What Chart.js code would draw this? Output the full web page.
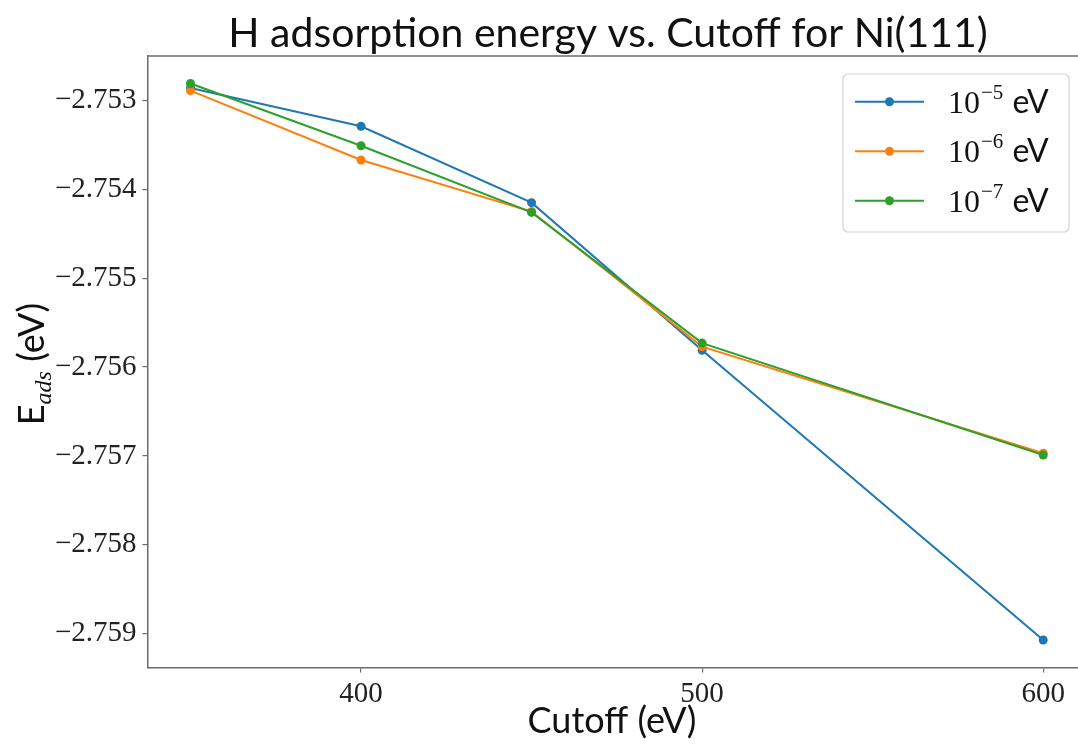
<!DOCTYPE html>
<html>
<head>
<meta charset="utf-8">
<script src="https://cdn.jsdelivr.net/npm/chart.js@4/dist/chart.umd.min.js"></script>
<style>
  html, body { margin: 0; padding: 0; background: #fff; overflow: hidden; }
  #wrap { width: 1078px; height: 744px; position: relative; }
</style>
</head>
<body>
<div id="wrap"><canvas id="cutoffChart"></canvas></div>
<script>
/* =========================
   DATA
========================= */
const cutoffs = [350, 400, 450, 500, 600];
const eTol5 = [-2.75286, -2.75329, -2.75415, -2.75581, -2.75907];
const eTol6 = [-2.75289, -2.75367, -2.75425, -2.75577, -2.75697];
const eTol7 = [-2.75281, -2.75351, -2.75426, -2.75573, -2.75699];

const xTicks = [400, 500, 600];
const yTicks = [-2.753, -2.754, -2.755, -2.756, -2.757, -2.758, -2.759];

const seriesNames = [["10", "\u22125", " eV"], ["10", "\u22126", " eV"], ["10", "\u22127", " eV"]];
const titleText = "H adsorption energy vs. Cutoff for Ni(111)";
const xTitle = "Cutoff (eV)";

const colors = ["#1f77b4", "#ff7f0e", "#2ca02c"];
const SPINE = "#6b6b6b";
const SERIF = "'Liberation Serif', 'DejaVu Serif', serif";
const SANS = "Lato, 'Open Sans', sans-serif";

/* =========================
   HELPERS
========================= */
function makeSeries(values, color, order) {
  return {
    data: cutoffs.map((c, i) => ({ x: c, y: values[i] })),
    borderColor: color,
    backgroundColor: color,
    borderWidth: 2,
    pointRadius: 4.5,
    pointHoverRadius: 4.5,
    pointBorderWidth: 0,
    tension: 0,
    clip: false,
    order
  };
}

const fmtMinus = v => (v < 0 ? "\u2212" : "") + Math.abs(v).toFixed(3);

// keep the plot box fixed, no extra room for edge labels
function noEdgePad(s) {
  s.paddingLeft = 0;
  s.paddingRight = 0;
  s.paddingTop = 0;
  s.paddingBottom = 0;
}

/* =========================
   CUSTOM DRAWING
========================= */
const decor = {
  id: "decor",
  afterDraw(chart) {
    const { ctx, chartArea: a } = chart;
    ctx.save();

    // top spine
    ctx.strokeStyle = SPINE;
    ctx.lineWidth = 1.5;
    ctx.beginPath();
    ctx.moveTo(a.left, a.top);
    ctx.lineTo(a.right, a.top);
    ctx.stroke();

    // title
    ctx.fillStyle = "#111";
    ctx.font = "41px " + SANS;
    ctx.textAlign = "center";
    ctx.textBaseline = "alphabetic";
    ctx.fillText(titleText, 608, 47);

    // x axis title
    ctx.font = "36px " + SANS;
    ctx.fillText(xTitle, 612, 733);

    // y axis title: E with italic subscript "ads"
    ctx.translate(44, 364);
    ctx.rotate(-Math.PI / 2);
    ctx.textAlign = "left";
    const partE = "E";
    const partSub = "ads";
    const partRest = " (eV)";
    ctx.font = "36px " + SANS;
    const wE = ctx.measureText(partE).width;
    const wRest = ctx.measureText(partRest).width;
    ctx.font = "italic 24px " + SERIF;
    const wSub = ctx.measureText(partSub).width;
    let x0 = -(wE + wSub + wRest) / 2;
    ctx.font = "36px " + SANS;
    ctx.fillText(partE, x0, 0);
    ctx.font = "italic 24px " + SERIF;
    ctx.fillText(partSub, x0 + wE, 7);
    ctx.font = "36px " + SANS;
    ctx.fillText(partRest, x0 + wE + wSub, 0);
    ctx.restore();

    // legend
    ctx.save();
    const bx = 843, by = 74, bw = 226, bh = 158, r = 5;
    ctx.fillStyle = "rgba(255,255,255,0.85)";
    ctx.strokeStyle = "#d4d4d4";
    ctx.lineWidth = 1.2;
    ctx.beginPath();
    ctx.roundRect(bx, by, bw, bh, r);
    ctx.fill();
    ctx.stroke();

    seriesNames.forEach((name, i) => {
      const y = 101.7 + i * 49.5;
      ctx.strokeStyle = colors[i];
      ctx.fillStyle = colors[i];
      ctx.lineWidth = 2;
      ctx.beginPath();
      ctx.moveTo(855, y);
      ctx.lineTo(924, y);
      ctx.stroke();
      ctx.beginPath();
      ctx.arc(889.5, y, 4.5, 0, Math.PI * 2);
      ctx.fill();

      ctx.fillStyle = "#111";
      ctx.textBaseline = "alphabetic";
      ctx.textAlign = "left";
      let tx = 948;
      const base = y + 11;
      ctx.font = "32px " + SERIF;
      ctx.fillText(name[0], tx, base);
      tx += ctx.measureText(name[0]).width + 1;
      ctx.font = "21px " + SERIF;
      ctx.fillText(name[1], tx, base - 14);
      tx += ctx.measureText(name[1]).width + 1;
      ctx.font = "32px " + SANS;
      ctx.fillText(name[2], tx, base);
    });
    ctx.restore();
  }
};

/* =========================
   CHART
========================= */
new Chart(document.getElementById("cutoffChart"), {
  type: "line",
  data: {
    datasets: [
      makeSeries(eTol5, colors[0], 2),
      makeSeries(eTol6, colors[1], 1),
      makeSeries(eTol7, colors[2], 0)
    ]
  },
  options: {
    responsive: true,
    maintainAspectRatio: false,
    animation: false,
    events: [],
    layout: { autoPadding: false, padding: { top: 56, left: 0, right: 0, bottom: 0 } },
    plugins: {
      legend: { display: false },
      title: { display: false },
      tooltip: { enabled: false }
    },
    scales: {
      x: {
        type: "linear",
        min: 337.4,
        max: 610.2,
        afterBuildTicks: s => { s.ticks = xTicks.map(v => ({ value: v })); },
        afterFit: s => { s.height = 76.5; noEdgePad(s); },
        grid: { drawOnChartArea: false, drawTicks: true, tickLength: 5, color: SPINE, lineWidth: 1.2 },
        border: { color: SPINE, width: 1.5 },
        ticks: {
          color: "#222",
          padding: 4,
          maxRotation: 0,
          font: { family: SERIF, size: 29 },
          callback: v => String(v)
        }
      },
      y: {
        type: "linear",
        min: -2.75938,
        max: -2.7525,
        afterBuildTicks: s => { s.ticks = yTicks.map(v => ({ value: v })); },
        afterFit: s => { s.width = 147.5; noEdgePad(s); },
        grid: { drawOnChartArea: false, drawTicks: true, tickLength: 5, color: SPINE, lineWidth: 1.2 },
        border: { color: SPINE, width: 1.5 },
        ticks: {
          color: "#222",
          padding: 6,
          font: { family: SERIF, size: 29 },
          callback: v => fmtMinus(v)
        }
      }
    }
  },
  plugins: [decor]
});
</script>
</body>
</html>
